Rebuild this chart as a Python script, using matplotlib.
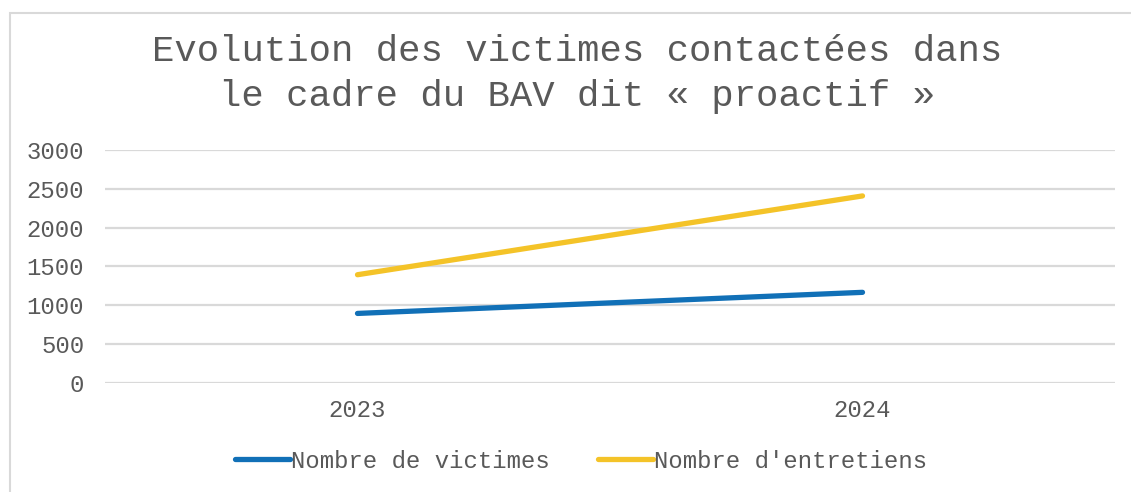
import matplotlib
matplotlib.use("Agg")
import matplotlib.pyplot as plt
from matplotlib.patches import Rectangle

years = ["2023", "2024"]
victimes = [893, 1165]
entretiens = [1392, 2408]
series_names = ["Nombre de victimes", "Nombre d'entretiens"]

TEXT = "#595959"
GRID = "#D9D9D9"
BLUE = "#1170B7"
YELLOW = "#F4C328"

plt.rcParams["font.family"] = ["Liberation Mono", "DejaVu Sans Mono"]

fig = plt.figure(figsize=(11.31, 4.92), dpi=100)
ax = fig.add_axes([105 / 1131, 1 - 382.7 / 492, 1010 / 1131, 232.7 / 492])

# chart frame (only left and top edges show in the crop)
fig.patches.append(Rectangle((10 / 1131, -0.1), 1.2, 1 - 12.5 / 492 + 0.1,
                             transform=fig.transFigure, fill=False,
                             edgecolor=GRID, linewidth=1.5))

x = range(len(years))
ax.plot(x, victimes, color=BLUE, linewidth=3.8, solid_capstyle="round", label=series_names[0])
ax.plot(x, entretiens, color=YELLOW, linewidth=3.8, solid_capstyle="round", label=series_names[1])

ax.set_xlim(-0.5, 1.5)
ax.set_ylim(0, 3000)
ax.set_yticks(range(0, 3001, 500))
ax.set_xticks(list(x))
ax.set_xticklabels(years)
ax.grid(axis="y", color=GRID, linewidth=1.6)
ax.set_axisbelow(True)
for s in ax.spines.values():
    s.set_visible(False)
ax.tick_params(length=0, labelsize=17.2, labelcolor=TEXT)
ax.tick_params(axis="y", pad=15)
ax.tick_params(axis="x", pad=12)

fig.text(577 / 1131, 1 - 74 / 492,
         "Evolution des victimes contactées dans\nle cadre du BAV dit « proactif »",
         ha="center", va="center", fontsize=26.8, color=TEXT, linespacing=1.35)

leg = fig.legend(loc="center", bbox_to_anchor=(581 / 1131, 1 - 461 / 492), ncol=2,
                 frameon=False, fontsize=17.2, handlelength=2.3, handletextpad=0.05,
                 columnspacing=2.0)
for t in leg.get_texts():
    t.set_color(TEXT)

fig.savefig("out.png", dpi=100)
